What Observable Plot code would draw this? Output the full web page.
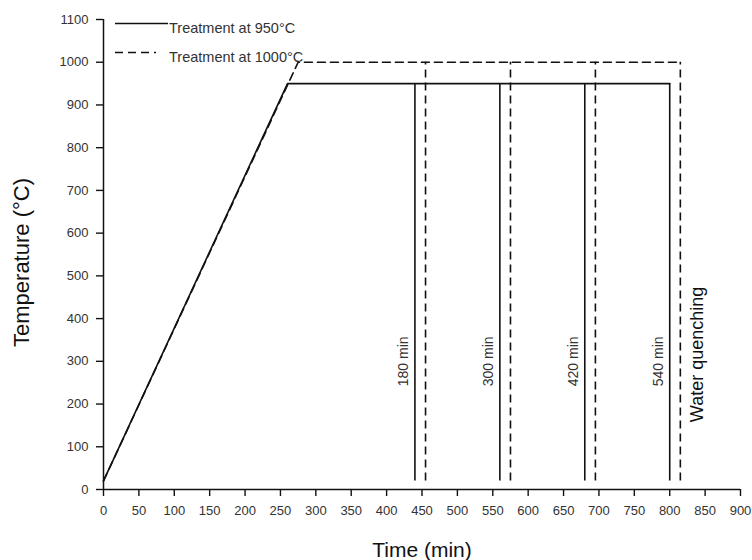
<!DOCTYPE html>
<html>
<head>
<meta charset="utf-8">
<script src="https://cdn.jsdelivr.net/npm/d3@7"></script>
<script src="https://cdn.jsdelivr.net/npm/@observablehq/plot@0.6"></script>
<style>
  html, body { margin: 0; padding: 0; background: #fff; }
  #chart { position: relative; width: 752px; height: 560px; font-family: "Liberation Sans", Arial, sans-serif; }
  #legend { position: absolute; left: 0; top: 0; pointer-events: none; }
</style>
</head>
<body>
<div id="chart"></div>
<script>
// Heating profile at 950 °C (time in min, temperature in °C)
const path950Time = [0, 260, 800];
const path950Temp = [20, 950, 950];
// Heating profile at 1000 °C
const path1000Time = [0, 275, 815];
const path1000Temp = [20, 1000, 1000];
// Quench times (end of each soak)
const quench950 = [440, 560, 680, 800];
const quench1000 = [455, 575, 695, 815];
const soakLabels = ["180 min", "300 min", "420 min", "540 min"];
const quenchLabel = "Water quenching";
const baseTemp = 20;
const hold950 = 950;
const hold1000 = 1000;
// Axes
const xTicks = d3.range(0, 901, 50);
const yTicks = d3.range(0, 1101, 100);
const legendLabels = ["Treatment at 950°C", "Treatment at 1000°C"];

const line950 = path950Time.map((t, i) => ({t, T: path950Temp[i]}));
const line1000 = path1000Time.map((t, i) => ({t, T: path1000Temp[i]}));
const soakData = quench950.map((t, i) => ({t, label: soakLabels[i]}));

const ink = "#111";
const textInk = "#333";
const dash = "8,5";

const plot = Plot.plot({
  width: 752,
  height: 560,
  marginLeft: 103,
  marginRight: 12,
  marginTop: 19,
  marginBottom: 71,
  style: {fontFamily: "'Liberation Sans', Arial, sans-serif", background: "#fff", color: textInk},
  x: {domain: [0, 900]},
  y: {domain: [0, 1100]},
  marks: [
    Plot.axisX({ticks: xTicks, tickFormat: d => String(d), tickSize: 7, tickPadding: 9, label: null, fontSize: 13, stroke: ink, strokeWidth: 1.4}),
    Plot.axisY({ticks: yTicks, tickFormat: d => String(d), tickSize: 7, tickPadding: 8, label: null, fontSize: 13, stroke: ink, strokeWidth: 1.4}),
    Plot.ruleY([0], {stroke: ink, strokeWidth: 1.5}),
    Plot.ruleX([0], {stroke: ink, strokeWidth: 1.5}),
    Plot.line(line1000, {x: "t", y: "T", stroke: ink, strokeWidth: 1.6, strokeDasharray: dash}),
    Plot.line(line950, {x: "t", y: "T", stroke: ink, strokeWidth: 1.6}),
    Plot.ruleX(quench950, {y1: baseTemp, y2: hold950, stroke: ink, strokeWidth: 1.6}),
    Plot.ruleX(quench1000, {y1: baseTemp, y2: hold1000, stroke: ink, strokeWidth: 1.6, strokeDasharray: dash}),
    Plot.text(soakData, {x: "t", y: 300, text: "label", rotate: -90, dx: -11, fontSize: 14, fill: textInk, textAnchor: "middle", lineAnchor: "middle"}),
    Plot.text([quenchLabel], {x: quench1000[quench1000.length - 1], y: 316, text: d => d, rotate: -90, dx: 17, fontSize: 18, fill: ink, textAnchor: "middle", lineAnchor: "middle"}),
    Plot.text(["Time (min)"], {frameAnchor: "bottom", text: d => d, dy: 67, lineAnchor: "bottom", fontSize: 21, fill: ink}),
    Plot.text(["Temperature (°C)"], {frameAnchor: "left", text: d => d, rotate: -90, dx: -75, dy: 8, lineAnchor: "bottom", textAnchor: "middle", fontSize: 22, fill: ink})
  ]
});

const chart = document.getElementById("chart");
chart.appendChild(plot);

// Legend overlay (top-left inside the plot area)
const ns = "http://www.w3.org/2000/svg";
const leg = document.createElementNS(ns, "svg");
leg.setAttribute("id", "legend");
leg.setAttribute("width", 752);
leg.setAttribute("height", 80);
const entries = [
  {label: legendLabels[0], lineY: 23.5, x2: 168, textY: 33, dashed: false},
  {label: legendLabels[1], lineY: 52.5, x2: 156, textY: 62, dashed: true}
];
for (const e of entries) {
  const l = document.createElementNS(ns, "line");
  l.setAttribute("x1", 115); l.setAttribute("x2", e.x2);
  l.setAttribute("y1", e.lineY); l.setAttribute("y2", e.lineY);
  l.setAttribute("stroke", ink); l.setAttribute("stroke-width", 1.6);
  if (e.dashed) l.setAttribute("stroke-dasharray", dash);
  leg.appendChild(l);
  const t = document.createElementNS(ns, "text");
  t.setAttribute("x", 169); t.setAttribute("y", e.textY);
  t.setAttribute("font-size", 14.5);
  t.setAttribute("font-family", "'Liberation Sans', Arial, sans-serif");
  t.setAttribute("fill", textInk);
  t.textContent = e.label;
  leg.appendChild(t);
}
chart.appendChild(leg);
</script>
</body>
</html>
